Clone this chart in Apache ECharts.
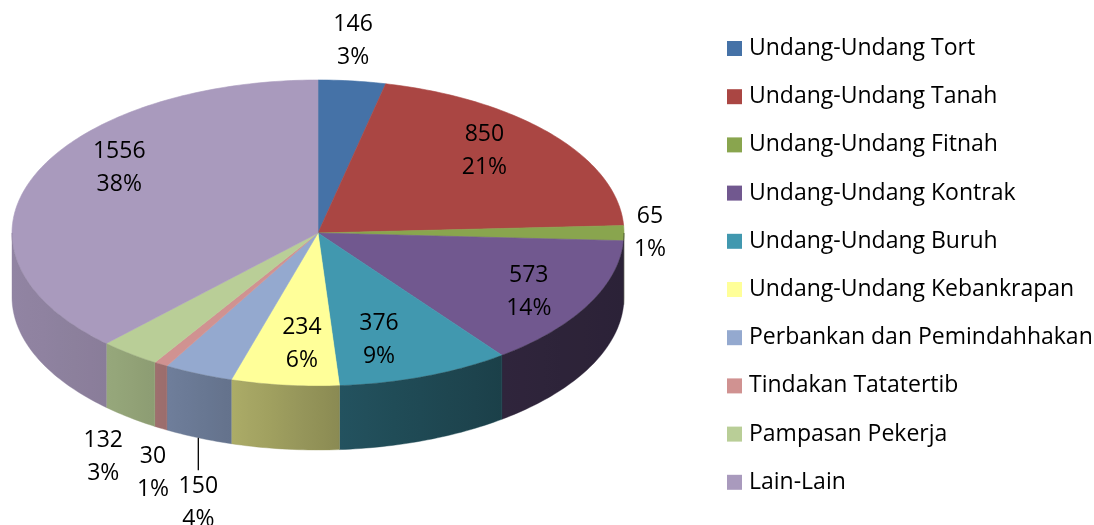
<!DOCTYPE html>
<html>
<head>
<meta charset="UTF-8">
<title>Kes mengikut bidang undang-undang</title>
<style>html,body{margin:0;padding:0;background:#fff;}</style>
</head>
<body>
<div id="container" style="width:1094px;height:525px"></div>
<script src="https://cdn.jsdelivr.net/npm/echarts@6/dist/echarts.min.js"></script>
<script>
var categories = ['Undang-Undang Tort', 'Undang-Undang Tanah', 'Undang-Undang Fitnah',
    'Undang-Undang Kontrak', 'Undang-Undang Buruh', 'Undang-Undang Kebankrapan',
    'Perbankan dan Pemindahhakan', 'Tindakan Tatatertib', 'Pampasan Pekerja', 'Lain-Lain'];
var values = [146, 850, 65, 573, 376, 234, 150, 30, 132, 1556];
var percentLabels = ['3%', '21%', '1%', '14%', '9%', '6%', '4%', '1%', '3%', '38%'];
var colors = ['#4572A7', '#AA4643', '#89A54E', '#71588F', '#4198AF',
    '#FFFF99', '#94A9CF', '#D09291', '#B9CE97', '#A99ABD'];

// where each label sits: multiple of rx / ry along the slice middle angle
var labelPlace = [[1.03, 1.26], [0.71, 0.83], [1.085, 1], [0.78, 0.815], [0.57, 0.745],
    [0.485, 0.73], [1.0, 1.92], [1.05, 1.83], [1.14, 1.86], [0.7, 1.14]];
var leaderLine = [false, false, false, false, false, false, true, false, false, false];

var cx = 318, cy = 233, rx = 306, ry = 153, depth = 64;
var font = '23px "Open Sans"';

// side wall gets darker toward the right
var shadeStops = [[12, 0.86], [110, 0.81], [200, 0.71], [235, 0.67], [340, 0.54], [500, 0.42], [630, 0.38]];
function shadeAt(x) {
    if (x <= shadeStops[0][0]) return shadeStops[0][1];
    for (var k = 1; k < shadeStops.length; k++) {
        if (x <= shadeStops[k][0]) {
            var a = shadeStops[k - 1], b = shadeStops[k];
            return a[1] + (b[1] - a[1]) * (x - a[0]) / (b[0] - a[0]);
        }
    }
    return shadeStops[shadeStops.length - 1][1];
}
function darken(hex, f) {
    var r = parseInt(hex.substr(1, 2), 16), g = parseInt(hex.substr(3, 2), 16), b = parseInt(hex.substr(5, 2), 16);
    return 'rgb(' + Math.round(r * f) + ',' + Math.round(g * f) + ',' + Math.round(b * f) + ')';
}
function pt(a, dz) {
    return [cx + rx * Math.sin(a), cy - ry * Math.cos(a) + dz];
}

var total = 0;
values.forEach(function (v) { total += v; });

function renderItem(params, api) {
    var i = params.dataIndex;
    var before = 0;
    for (var j = 0; j < i; j++) before += values[j];
    var a0 = before / total * Math.PI * 2;
    var a1 = (before + api.value(0)) / total * Math.PI * 2;
    var color = colors[i];
    var children = [];

    var n = Math.max(2, Math.ceil((a1 - a0) / (Math.PI / 180)));
    var top = [[cx, cy]];
    for (var k = 0; k <= n; k++) top.push(pt(a0 + (a1 - a0) * k / n, 0));
    children.push({
        type: 'polygon', shape: { points: top },
        style: { fill: color, stroke: color, lineWidth: 0.6 }
    });

    var s0 = Math.max(a0, Math.PI / 2), s1 = Math.min(a1, Math.PI * 1.5);
    if (s1 > s0) {
        var m = Math.max(2, Math.ceil((s1 - s0) / (Math.PI / 180)));
        var side = [], bottom = [];
        for (k = 0; k <= m; k++) {
            var a = s0 + (s1 - s0) * k / m;
            side.push(pt(a, 0));
            bottom.push(pt(a, depth));
        }
        side = side.concat(bottom.reverse());
        var xs = side.map(function (p) { return p[0]; });
        var xmin = Math.min.apply(null, xs), xmax = Math.max.apply(null, xs);
        var stops = [];
        for (k = 0; k <= 6; k++) {
            stops.push({ offset: k / 6, color: darken(color, shadeAt(xmin + (xmax - xmin) * k / 6)) });
        }
        children.push({
            type: 'polygon', shape: { points: side },
            style: {
                fill: { type: 'linear', x: xmin, y: 0, x2: xmax, y2: 0, global: true, colorStops: stops },
                stroke: darken(color, shadeAt((xmin + xmax) / 2)), lineWidth: 0.4
            }
        });
    }

    var mid = (a0 + a1) / 2;
    var lx = cx + labelPlace[i][0] * rx * Math.sin(mid);
    var ly = cy - labelPlace[i][1] * ry * Math.cos(mid);
    children.push({
        type: 'text', z2: 20,
        style: { text: String(api.value(0)), x: lx, y: ly - 16.5, align: 'center', verticalAlign: 'middle', font: font, fill: '#000' }
    });
    children.push({
        type: 'text', z2: 20,
        style: { text: percentLabels[i], x: lx, y: ly + 16.5, align: 'center', verticalAlign: 'middle', font: font, fill: '#000' }
    });
    if (leaderLine[i]) {
        var edge = pt(mid, depth);
        children.push({
            type: 'line', z2: 20,
            shape: { x1: edge[0], y1: edge[1], x2: edge[0], y2: ly - 33 },
            style: { stroke: '#000', lineWidth: 1.3 }
        });
    }
    return { type: 'group', children: children };
}

var dom = document.getElementById('container');
var myChart = echarts.init(dom);
var option = {
    animation: false,
    legend: {
        orient: 'vertical', left: 727, top: 37, padding: 0,
        itemWidth: 15, itemHeight: 15, itemGap: 25.2, icon: 'rect',
        selectedMode: false,
        textStyle: { fontFamily: 'Open Sans', fontSize: 23, color: '#000', lineHeight: 23, padding: [0, 0, 0, 2] },
        data: categories
    },
    series: [
        {
            name: 'Kes',
            type: 'custom',
            coordinateSystem: 'none',
            renderItem: renderItem,
            data: values.map(function (v, i) { return [v, i]; })
        },
        {
            // legend only
            type: 'pie', radius: 0, silent: true,
            label: { show: false }, labelLine: { show: false },
            data: categories.map(function (c, i) {
                return { name: c, value: values[i], itemStyle: { color: colors[i] } };
            })
        }
    ]
};
myChart.setOption(option);
</script>
</body>
</html>
